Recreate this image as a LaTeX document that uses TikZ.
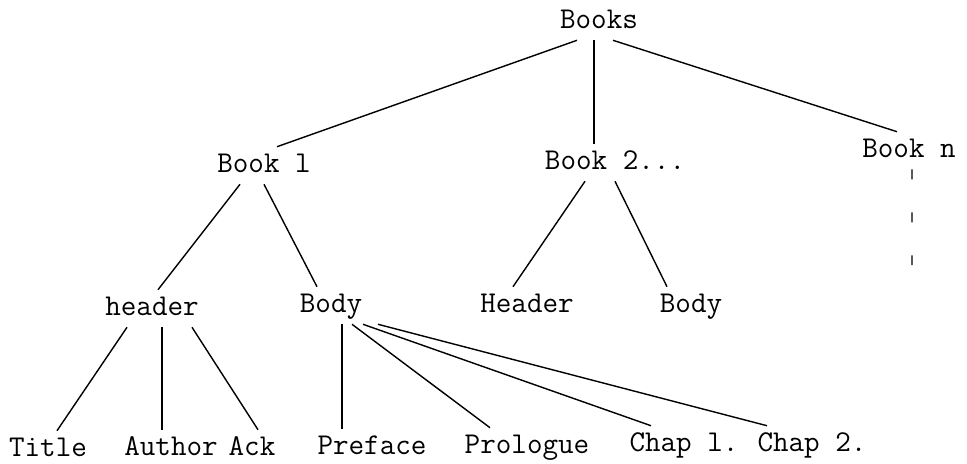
\documentclass[tikz,border=0pt]{standalone}
\usepackage{fontspec}
\usetikzlibrary{positioning}

\begin{document}
\begin{tikzpicture}[x=0.025cm,y=-0.025cm,
		word/.style={font=\ttfamily\fontsize{21.5}{24}\selectfont,anchor=base,inner xsep=0pt,inner ysep=0.2cm,text height=0.425cm,text depth=0.1cm},
		leaf/.style={word,text depth=0pt},
		branch/.style={line width=1pt},
		trail/.style={line width=1pt,dash pattern=on 0.25cm off 0.825cm}]
		\useasboundingbox (0,0) rectangle (967,463);
		\node[word] (books) at (599,28) {Books};
		\node[word] (book1) at (264,172) {Book l};
		\node[word] (book2) at (615,169) {Book 2...};
		\node[word] (bookn) at (909,157) {Book n};
		\node[word] (header) at (152,315) {header};
		\node[word] (body1) at (331,312) {Body};
		\node[word] (header2) at (527,312) {Header};
		\node[word] (body2) at (691,312) {Body};
		\node[leaf] (title) at (48,456) {Title};
		\node[leaf] (author) at (171,455) {Author};
		\node[leaf] (ack) at (252,455) {Ack};
		\node[leaf] (preface) at (372,454) {Preface};
		\node[leaf] (prologue) at (527,453) {Prologue};
		\node[leaf] (chap1) at (684,451) {Chap l.};
		\node[leaf] (chap2) at (812,451) {Chap 2.};
		\coordinate (books stem) at ([xshift=-0.125cm]books.south);
		\coordinate (header stem) at ([xshift=0.25cm]header.south);
		\coordinate (body stem) at ([xshift=0.275cm]body1.south);
		\coordinate (bookn end) at (912,265);
		\draw[branch] ([xshift=-0.55cm]books.south) -- ([xshift=0.325cm]book1.north);
		\draw[branch] (books stem) -- (books stem |- book2.north);
		\draw[branch] ([xshift=0.35cm]books.south) -- ([xshift=-0.3cm]bookn.north);
		\draw[trail] ([xshift=0.075cm]bookn.south) -- (bookn end);
		\draw[branch] ([xshift=-0.6cm]book1.south) -- ([xshift=0.15cm]header.north);
		\draw[branch] (book1.south) -- ([xshift=-0.35cm]body1.north);
		\draw[branch] ([xshift=-0.75cm]book2.south) -- ([xshift=-0.35cm]header2.north);
		\draw[branch] (book2.south) -- ([xshift=-0.6cm]body2.north);
		\draw[branch] ([xshift=-0.625cm]header.south) -- ([xshift=0.225cm]title.north);
		\draw[branch] (header stem) -- (header stem |- author.north);
		\draw[branch] ([xshift=1cm]header.south) -- ([xshift=0.15cm]ack.north);
		\draw[branch] (body stem) -- (body stem |- preface.north);
		\draw[branch] ([xshift=0.525cm]body1.south) -- ([xshift=-0.925cm]prologue.north);
		\draw[branch] ([xshift=0.8cm]body1.south) -- ([xshift=-0.825cm]chap1.north);
		\draw[branch] ([xshift=1.175cm]body1.south) -- ([xshift=-1.125cm]chap2.north);
\end{tikzpicture}
\end{document}
